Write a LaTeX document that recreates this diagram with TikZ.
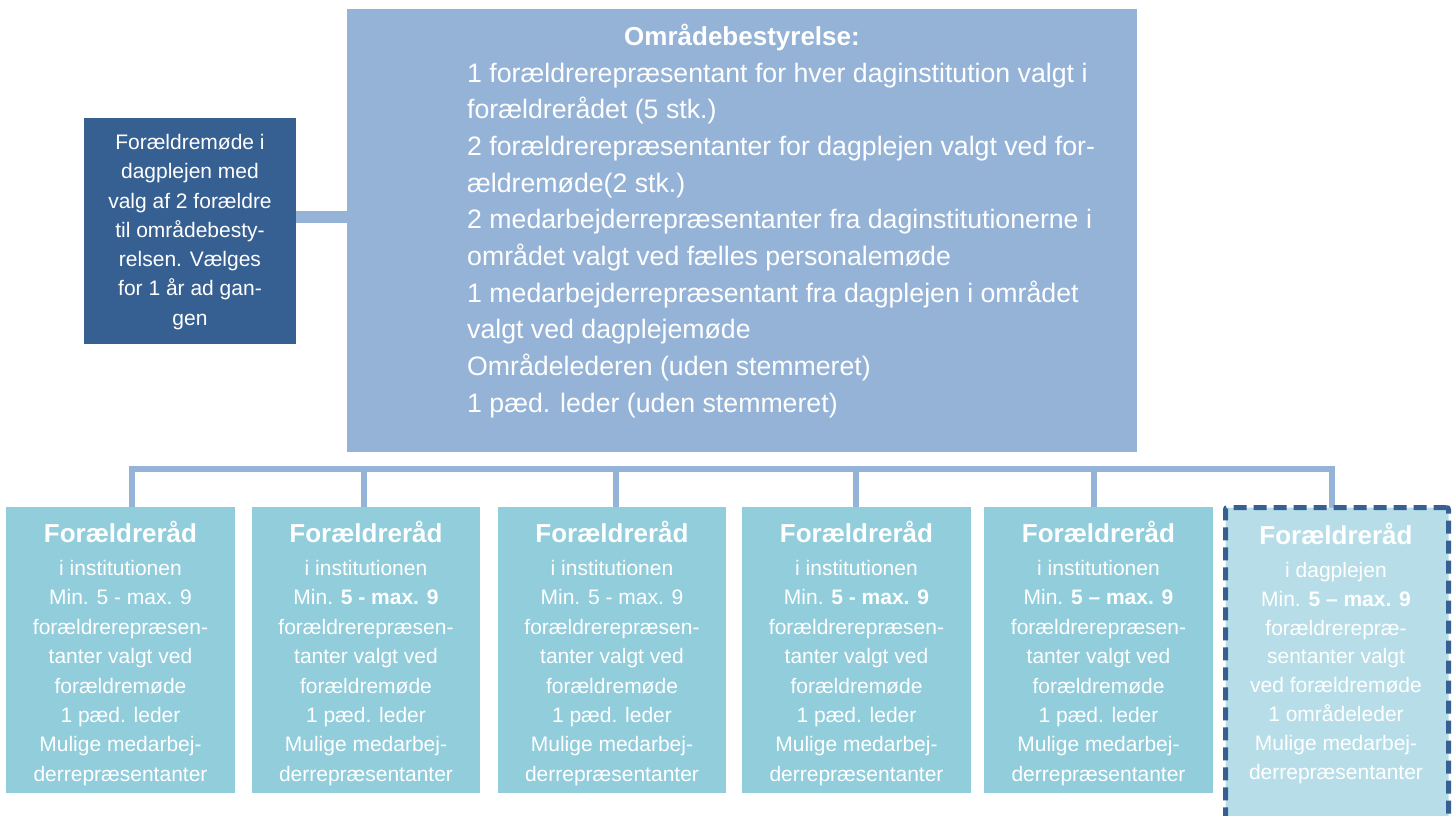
\documentclass[tikz,border=0pt]{standalone}
\usepackage{fontspec}
\setmainfont{Liberation Sans}
\definecolor{mainblue}{HTML}{95B3D7}
\definecolor{darkblue}{HTML}{376092}
\definecolor{instteal}{HTML}{92CDDC}
\definecolor{paleteal}{HTML}{B7DEE8}
\newcommand\orgLines[6]{% style, prefix, x, y0, step, list
  \foreach \txt [count=\i] in {#6} {\node[#1] (#2\i) at (#3,{#4+#5*(\i-1)}) {\txt};}}
\begin{document}
\begin{tikzpicture}[x=1pt,y=-1pt,
  mainbox/.style={fill=mainblue, inner sep=0, minimum width=790, minimum height=443},
  leftbox/.style={fill=darkblue, inner sep=0, minimum width=212, minimum height=226},
  instbox/.style={fill=instteal, inner sep=0, minimum width=229, minimum height=286},
  dagbox/.style={fill=paleteal, draw=darkblue, line width=5, dash pattern=on 13 off 7, rounded corners=2, inner sep=0, minimum width=223, minimum height=332.5},
  conn/.style={draw=mainblue, line width=12},
  bus/.style={draw=mainblue, line width=6, line join=miter},
  bigtxt/.style={text=white, inner sep=0, font=\fontsize{26.7}{30}\selectfont},
  titletxt/.style={text=white, inner sep=0, anchor=base, font=\fontsize{26}{30}\selectfont\bfseries},
  mainline/.style={bigtxt, anchor=base west},
  btxt/.style={text=white, inner sep=0, anchor=base, font=\fontsize{21}{25}\selectfont}
]
\useasboundingbox (0,0) rectangle (1453,816);

% boxes
\node[mainbox] (main) at (742,230.5) {};
\node[leftbox] (left) at (190,231) {};
\node[instbox] (b1) at (120.5,650) {};
\node[instbox, minimum width=228] (b2) at (366,650) {};
\node[instbox, minimum width=228] (b3) at (612,650) {};
\node[instbox] (b4) at (856.5,650) {};
\node[instbox] (b5) at (1098.5,650) {};

% connectors
\coordinate (cy) at (0,217);
\draw[conn] (left.east |- cy) -- (main.west |- cy);
\coordinate (tap1) at (132,469);
\coordinate (tap2) at (364,469);
\coordinate (tap3) at (616,469);
\coordinate (tap4) at (856,469);
\coordinate (tap5) at (1094,469);
\coordinate (tap6) at (1332,469);
\draw[bus] (b1.north -| tap1) -- (tap1) -- (tap6) -- (1332,508);
\foreach \k in {2,3,4,5} {\draw[bus] (tap\k) -- (b\k.north -| tap\k);}

\node[dagbox] (b6) at (1337,673.75) {};

% main text
\node[titletxt] (maintitle) at (742,46) {Områdebestyrelse:};
\orgLines{mainline}{m}{467}{82}{36.7}{
1 forældrerepræsentant for hver daginstitution valgt i,
forældrerådet (5 stk.),
2 forældrerepræsentanter for dagplejen valgt ved for-,
ældremøde(2 stk.),
2 medarbejderrepræsentanter fra daginstitutionerne i,
området valgt ved fælles personalemøde,
1 medarbejderrepræsentant fra dagplejen i området,
valgt ved dagplejemøde,
Områdelederen (uden stemmeret),
1 pæd. leder (uden stemmeret)}

% left box text
\orgLines{btxt}{l}{190}{149.5}{29.25}{
Forældremøde i,
dagplejen med,
valg af 2 forældre,
til områdebesty-,
relsen. Vælges,
for 1 år ad gan-,
gen}

% bottom boxes
\node[titletxt] (t1) at (120.5,542) {Forældreråd};
\orgLines{btxt}{p}{120.5}{575.5}{29.4}{
i institutionen, Min. 5 - max. 9, forældrerepræsen-, tanter valgt ved,
forældremøde, 1 pæd. leder, Mulige medarbej-, derrepræsentanter}

\node[titletxt] (t2) at (366,542) {Forældreråd};
\orgLines{btxt}{q}{366}{575.5}{29.4}{
i institutionen, Min. \textbf{5 - max. 9}, forældrerepræsen-, tanter valgt ved,
forældremøde, 1 pæd. leder, Mulige medarbej-, derrepræsentanter}

\node[titletxt] (t3) at (612,542) {Forældreråd};
\orgLines{btxt}{r}{612}{575.5}{29.4}{
i institutionen, Min. 5 - max. 9, forældrerepræsen-, tanter valgt ved,
forældremøde, 1 pæd. leder, Mulige medarbej-, derrepræsentanter}

\node[titletxt] (t4) at (856.5,542) {Forældreråd};
\orgLines{btxt}{s}{856.5}{575.5}{29.4}{
i institutionen, Min. \textbf{5 - max. 9}, forældrerepræsen-, tanter valgt ved,
forældremøde, 1 pæd. leder, Mulige medarbej-, derrepræsentanter}

\node[titletxt] (t5) at (1098.5,542) {Forældreråd};
\orgLines{btxt}{u}{1098.5}{575.5}{29.4}{
i institutionen, Min. \textbf{5 – max. 9}, forældrerepræsen-, tanter valgt ved,
forældremøde, 1 pæd. leder, Mulige medarbej-, derrepræsentanter}

\node[titletxt] (t6) at (1336,544) {Forældreråd};
\orgLines{btxt}{v}{1336}{577.5}{28.8}{
i dagplejen, Min. \textbf{5 – max. 9}, forældrerepræ-, sentanter valgt,
ved forældremøde, 1 områdeleder, Mulige medarbej-, derrepræsentanter}
\end{tikzpicture}
\end{document}
